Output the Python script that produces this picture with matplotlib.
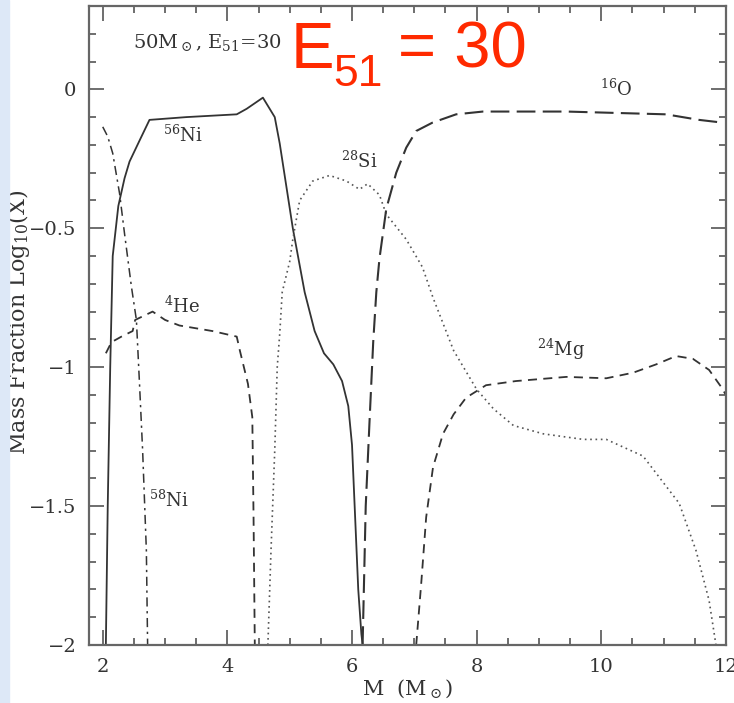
import matplotlib
matplotlib.use("Agg")
import matplotlib.pyplot as plt
from matplotlib.patches import Rectangle
from matplotlib.ticker import MultipleLocator

plt.rcParams["font.family"] = ["DejaVu Serif"]
plt.rcParams["mathtext.fontset"] = "dejavuserif"

# data: mass coordinate (Msun) vs log10 mass fraction
ni56_x = [2.05, 2.08, 2.12, 2.16, 2.25, 2.35, 2.43, 2.6, 2.75, 3.34, 4.15, 4.31, 4.57,
          4.76, 4.84, 5.05, 5.24, 5.40, 5.55, 5.70, 5.84, 5.94, 6.0, 6.05, 6.1, 6.15, 6.17]
ni56_y = [-2.0, -1.5, -1.0, -0.6, -0.42, -0.32, -0.26, -0.18, -0.11, -0.10, -0.09, -0.07, -0.03,
          -0.10, -0.195, -0.50, -0.73, -0.87, -0.95, -0.99, -1.05, -1.14, -1.28, -1.54, -1.8,
          -1.96, -2.0]

ni58_x = [2.0, 2.08, 2.16, 2.27, 2.35, 2.46, 2.54, 2.59, 2.64, 2.70, 2.72]
ni58_y = [-0.135, -0.17, -0.23, -0.375, -0.52, -0.71, -0.83, -1.06, -1.30, -1.66, -2.0]

he4_x = [2.05, 2.14, 2.3, 2.48, 2.52, 2.8, 3.0, 3.23, 3.76, 4.15, 4.2, 4.33, 4.4, 4.42, 4.44]
he4_y = [-0.95, -0.91, -0.89, -0.87, -0.83, -0.80, -0.83, -0.85, -0.87, -0.89, -0.94, -1.06,
         -1.18, -1.54, -2.0]

si28_x = [4.65, 4.7, 4.76, 4.8, 4.84, 4.88, 5.0, 5.05, 5.16, 5.37, 5.64, 5.91, 6.12, 6.25, 6.44,
          6.55, 6.87, 7.13, 7.3, 7.63, 8.0, 8.27, 8.59, 9.07, 9.71, 10.08, 10.67, 11.25, 11.52,
          11.73, 11.84]
si28_y = [-2.0, -1.66, -1.30, -1.0, -0.88, -0.73, -0.62, -0.54, -0.40, -0.33, -0.31, -0.33, -0.36,
          -0.34, -0.38, -0.45, -0.54, -0.64, -0.75, -0.94, -1.08, -1.15, -1.21, -1.24, -1.26, -1.26,
          -1.32, -1.49, -1.66, -1.84, -2.0]

o16_x = [6.17, 6.22, 6.28, 6.34, 6.39, 6.44, 6.55, 6.71, 6.87, 7.03, 7.29, 7.67, 8.1, 9.44,
         11.04, 11.57, 11.95]
o16_y = [-2.0, -1.5, -1.2, -0.91, -0.73, -0.61, -0.43, -0.30, -0.21, -0.15, -0.12, -0.09, -0.08,
         -0.08, -0.09, -0.11, -0.12]

mg24_x = [7.03, 7.11, 7.19, 7.3, 7.46, 7.63, 7.83, 8.15, 8.63, 9.44, 10.08, 10.51, 10.88, 11.2,
          11.47, 11.73, 11.92, 12.0]
mg24_y = [-2.0, -1.78, -1.54, -1.36, -1.24, -1.17, -1.11, -1.065, -1.05, -1.035, -1.04, -1.02,
          -0.99, -0.96, -0.97, -1.01, -1.07, -1.1]

W, H = 734, 703
fig = plt.figure(figsize=(W / 100, H / 100), dpi=100)
# light blue slide edge on the left
fig.patches.append(Rectangle((0, 0), 0.012, 1, transform=fig.transFigure,
                             color="#dde8f7", zorder=0))

ax = fig.add_axes([0.1213, 0.0825, 0.8677, 0.909])
ax.set_xlim(1.78, 12)
ax.set_ylim(-2, 0.3)

ink = "#333333"
ax.plot(ni56_x, ni56_y, color=ink, lw=1.3, ls="-")
ax.plot(ni58_x, ni58_y, color=ink, lw=1.1, ls=(0, (6, 3, 1.5, 3)))
ax.plot(he4_x, he4_y, color=ink, lw=1.3, ls=(0, (5, 3.5)))
ax.plot(si28_x, si28_y, color="#555555", lw=1.2, ls=(0, (1, 2.2)))
ax.plot(o16_x, o16_y, color=ink, lw=1.5, ls=(0, (9, 3.5)))
ax.plot(mg24_x, mg24_y, color=ink, lw=1.3, ls=(0, (5, 3.5)))

lab = dict(color="#333333", fontsize=13)
ax.text(3.28, -0.165, r"$^{56}$Ni", ha="center", va="center", **lab)
ax.text(3.07, -1.48, r"$^{58}$Ni", ha="center", va="center", **lab)
ax.text(3.28, -0.78, r"$^{4}$He", ha="center", va="center", **lab)
ax.text(6.12, -0.26, r"$^{28}$Si", ha="center", va="center", **lab)
ax.text(10.24, 0.0, r"$^{16}$O", ha="center", va="center", **lab)
ax.text(9.36, -0.935, r"$^{24}$Mg", ha="center", va="center", **lab)
ax.text(2.48, 0.147, r"50M$_\odot$, E$_{51}$=30", ha="left", va="baseline",
        color="#333333", fontsize=14)

# big red overlay, placed in pixels
red = dict(color="#ff2a00", family="Liberation Sans", ha="left", va="baseline")
fig.text(291 / W, 1 - 68 / H, "E", fontsize=47, **red)
fig.text(333 / W, 1 - 86 / H, "51", fontsize=32, **red)
fig.text(398 / W, 1 - 68 / H, "= 30", fontsize=47, **red)

ax.set_xticks([2, 4, 6, 8, 10, 12])
ax.set_yticks([-2, -1.5, -1, -0.5, 0])
ax.set_yticklabels(["\u22122", "\u22121.5", "\u22121", "\u22120.5", "0"])
ax.xaxis.set_minor_locator(MultipleLocator(0.5))
ax.yaxis.set_minor_locator(MultipleLocator(0.1))
ax.tick_params(which="both", direction="in", top=True, right=True, colors="#555555",
               labelcolor="#333333", labelsize=14, width=1.2)
ax.tick_params(which="major", length=11, pad=9)
ax.tick_params(which="minor", length=5)
for s in ax.spines.values():
    s.set_color("#666666")
    s.set_linewidth(1.6)

ax.set_ylabel(r"Mass Fraction Log$_{10}$(X)", fontsize=16, color="#333333", va="center")
ax.yaxis.set_label_coords(-0.11, 0.505)
ax.set_xlabel(r"M  (M$_\odot$)", fontsize=15, color="#333333", va="center")
ax.xaxis.set_label_coords(0.5, -0.069)

fig.savefig("out.png", dpi=100)
